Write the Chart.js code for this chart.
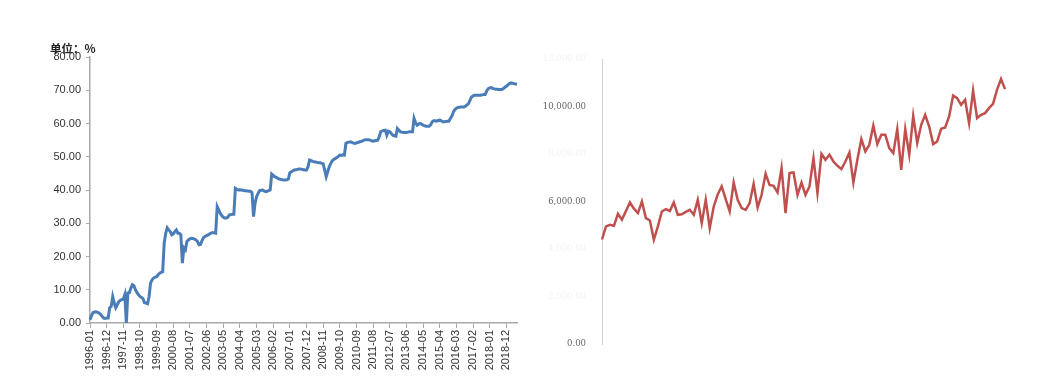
<!DOCTYPE html>
<html lang="zh">
<head>
<meta charset="UTF-8">
<title>Charts</title>
<script src="https://cdn.jsdelivr.net/npm/chart.js"></script>
<style>
  body { margin: 0; background: #fff; width: 1056px; height: 388px; overflow: hidden; position: relative; }
  .box { position: absolute; top: 0; }
  #unit {
    position: absolute; left: 50px; top: 40px;
    font: 700 11.5px "Noto Sans CJK SC", sans-serif; color: #222;
  }
</style>
</head>
<body>
<div class="box" style="left:0"><canvas id="left" width="530" height="388"></canvas></div>
<div class="box" style="left:530px"><canvas id="right" width="526" height="388"></canvas></div>
<div id="unit">单位：%</div>

<script>
// left chart: monthly share, 1996-01 .. 2019-07
const shareValues = [
  1.0, 2.2, 3.1, 3.3, 3.4, 3.2, 3.0, 2.6, 2.0, 1.5, 1.4, 1.5,
  1.5, 4.6, 5.0, 7.9, 6.0, 4.6, 5.5, 6.4, 6.8, 7.0, 7.2, 8.5,
  0.0, 9.0, 9.1, 10.5, 11.5, 11.2, 10.0, 9.2, 8.5, 8.0, 7.7, 7.3,
  6.1, 6.0, 5.8, 7.9, 12.0, 13.0, 13.5, 13.8, 13.9, 14.5, 15.0, 15.2,
  15.4, 24.0, 27.0, 28.6, 28.0, 27.5, 26.5, 26.8, 27.5, 28.0, 27.0, 27.0,
  26.5, 18.0, 22.6, 22.0, 24.5, 25.0, 25.3, 25.5, 25.4, 25.2, 25.0, 24.5,
  23.5, 23.6, 24.8, 25.7, 26.0, 26.3, 26.5, 26.8, 27.0, 27.2, 27.1, 27.0,
  35.0, 34.0, 33.0, 32.3, 31.8, 31.6, 31.6, 31.8, 32.5, 32.6, 32.7, 32.7,
  40.5, 40.2, 40.0, 40.1, 40.0, 39.9, 39.8, 39.8, 39.7, 39.6, 39.6, 39.2,
  32.0, 36.0, 38.0, 39.0, 39.8, 39.9, 40.0, 39.7, 39.5, 39.6, 39.8, 40.0,
  44.8, 44.4, 44.0, 43.8, 43.5, 43.3, 43.2, 43.1, 43.0, 43.0, 43.1, 43.3,
  45.2, 45.5, 45.8, 46.0, 46.1, 46.2, 46.3, 46.3, 46.2, 46.1, 46.0, 46.0,
  47.0, 49.0, 48.8, 48.6, 48.5, 48.4, 48.3, 48.2, 48.2, 48.0, 47.9, 46.0,
  44.0, 45.5, 47.0, 48.0, 48.8, 49.2, 49.5, 49.8, 50.1, 50.5, 50.4, 50.6,
  50.5, 54.0, 54.3, 54.4, 54.5, 54.3, 54.1, 54.0, 54.2, 54.3, 54.5, 54.6,
  54.8, 55.0, 55.1, 55.1, 55.1, 55.0, 54.8, 54.7, 54.8, 54.9, 55.0, 56.0,
  57.5, 57.8, 57.9, 58.0, 56.5, 57.7, 57.5, 57.0, 56.5, 56.3, 56.2, 58.5,
  58.0, 57.5, 57.4, 57.3, 57.3, 57.3, 57.4, 57.5, 57.5, 57.5, 61.5, 60.2,
  59.5, 59.8, 60.0, 59.8, 59.5, 59.3, 59.2, 59.2, 59.2, 59.6, 60.5, 60.8,
  60.8, 60.7, 60.9, 61.0, 60.8, 60.5, 60.5, 60.6, 60.7, 60.7, 61.5, 62.2,
  63.5, 64.2, 64.6, 64.8, 64.9, 65.0, 65.0, 65.0, 65.2, 65.6, 66.0, 67.0,
  68.0, 68.3, 68.5, 68.5, 68.5, 68.5, 68.5, 68.6, 68.7, 68.7, 69.8, 70.5,
  70.7, 70.8, 70.6, 70.4, 70.3, 70.3, 70.2, 70.2, 70.2, 70.5, 70.9, 71.2,
  71.6, 72.0, 72.2, 72.1, 72.0, 71.9, 71.8
];
const shareTicks = [0, 10, 20, 30, 40, 50, 60, 70, 80];

const months = [];
for (let y = 1996; months.length < shareValues.length; y++) {
  for (let m = 1; m <= 12 && months.length < shareValues.length; m++) {
    months.push(y + '-' + String(m).padStart(2, '0'));
  }
}

// right chart
const amountValues = [
  4400, 4950, 5020, 4980, 5480, 5230, 5600, 5960, 5700, 5510,
  6000, 5300, 5200, 4390, 4950, 5580, 5680, 5600, 5960, 5440,
  5460, 5560, 5650, 5440, 6070, 5090, 6070, 4880, 5790, 6300,
  6640, 6100, 5580, 6800, 6070, 5720, 5650, 5930, 6745, 5750,
  6280, 7166, 6700, 6660, 6380, 7406, 5511, 7196, 7222, 6282,
  6800, 6282, 6632, 7827, 6354, 8008, 7756, 7966, 7684, 7503,
  7364, 7684, 8063, 6800, 7756, 8627, 8105, 8387, 9200, 8417,
  8808, 8808, 8248, 8038, 9048, 7335, 9048, 7966, 9608, 8459,
  9229, 9650, 9158, 8417, 8527, 9061, 9116, 9579, 10463, 10354,
  10072, 10282, 9301, 10674, 9512, 9650, 9722, 9932, 10114, 10703,
  11154, 10733
];
const amountTicks = [0, 2000, 4000, 6000, 8000, 10000, 12000];
const amountShown = [0, 6000, 10000];
const amountLabels = amountValues.map((v, i) => String(i + 1));

new Chart(document.getElementById('left'), {
  type: 'line',
  data: {
    labels: months,
    datasets: [{
      data: shareValues,
      borderColor: '#4a7db8',
      borderWidth: 3,
      pointRadius: 0,
      tension: 0
    }]
  },
  options: {
    responsive: false,
    animation: false,
    layout: { padding: { top: 57, right: 13, left: 0, bottom: 0 } },
    plugins: { legend: { display: false }, tooltip: { enabled: false } },
    scales: {
      x: {
        afterFit: s => { s.height = 65; },
        grid: { drawOnChartArea: false, tickLength: 5, color: '#aaa' },
        border: { color: '#aaa', width: 1.5 },
        ticks: {
          autoSkip: false,
          maxRotation: 90,
          minRotation: 90,
          padding: 2,
          color: '#333',
          font: { family: 'Liberation Sans', size: 11 },
          callback: function (v, i) { return i % 11 === 0 ? months[i] : null; }
        }
      },
      y: {
        min: 0,
        max: 80,
        afterFit: s => { s.width = 90; },
        afterBuildTicks: s => { s.ticks = shareTicks.map(v => ({ value: v })); },
        grid: { drawOnChartArea: false, tickLength: 4, color: '#aaa' },
        border: { color: '#aaa', width: 1.5 },
        ticks: {
          padding: 5,
          color: '#333',
          font: { family: 'Liberation Sans', size: 11 },
          callback: v => v.toFixed(2)
        }
      }
    }
  }
});

new Chart(document.getElementById('right'), {
  type: 'line',
  data: {
    labels: amountLabels,
    datasets: [{
      data: amountValues,
      borderColor: '#c0504d',
      borderWidth: 2.5,
      pointRadius: 0,
      tension: 0
    }]
  },
  options: {
    responsive: false,
    animation: false,
    layout: { padding: { top: 59, right: 51, left: 0, bottom: 44 } },
    plugins: { legend: { display: false }, tooltip: { enabled: false } },
    scales: {
      x: { display: false },
      y: {
        min: 0,
        max: 12000,
        afterFit: s => { s.width = 72; },
        afterBuildTicks: s => { s.ticks = amountTicks.map(v => ({ value: v })); },
        grid: { display: false },
        border: { color: '#d4d4d4', width: 1 },
        ticks: {
          padding: 8,
          color: ctx => amountShown.includes(ctx.tick.value) ? '#666' : '#f3f3f3',
          font: { family: 'DejaVu Serif', size: 8.5 },
          callback: v => v.toLocaleString('en-US', { minimumFractionDigits: 2, maximumFractionDigits: 2 })
        }
      }
    }
  }
});
</script>
</body>
</html>
